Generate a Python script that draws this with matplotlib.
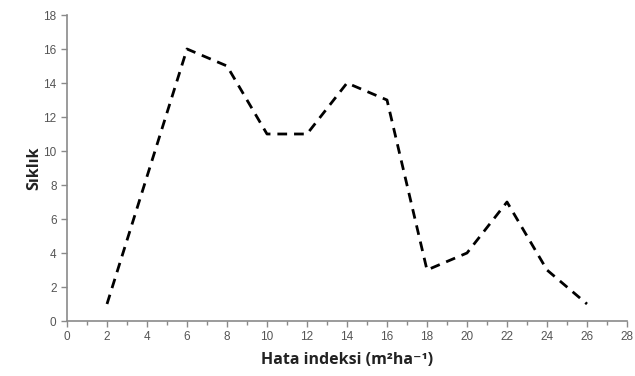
import numpy as np
from matplotlib import pyplot as plt
import matplotlib.ticker

# hata indeksi (m2/ha) vs frequency
x = [2, 4, 6, 8, 10, 12, 14, 16, 18, 20, 22, 24, 26]
freq = [1, 8.5, 16, 15, 11, 11, 14, 13, 3, 4, 7, 3, 1]

xlabel = 'Hata indeksi (m\u00b2ha\u207b\u00b9)'
ylabel = 'S\u0131kl\u0131k'

plt.rcParams['font.family'] = ['Liberation Sans', 'DejaVu Sans']

fig = plt.figure(figsize=(6.35, 3.76), dpi=100)
ax = fig.add_axes([67/635, 1 - 321/376, 560/635, 306/376])

ax.plot(x, freq, color='black', linewidth=2.0, linestyle=(0, (3.5, 2.5)))

ax.set_xlim(0, 28)
ax.set_ylim(0, 18)
ax.xaxis.set_major_locator(matplotlib.ticker.MultipleLocator(2))
ax.xaxis.set_minor_locator(matplotlib.ticker.MultipleLocator(1))
ax.yaxis.set_major_locator(matplotlib.ticker.MultipleLocator(2))

for s in ['top', 'right']:
    ax.spines[s].set_visible(False)
for s in ['left', 'bottom']:
    ax.spines[s].set_color('#8a8a8a')
    ax.spines[s].set_linewidth(1.2)

ax.tick_params(axis='both', which='both', direction='out', color='#8a8a8a',
               labelcolor='#555555', labelsize=8.5)
ax.tick_params(axis='both', which='major', length=4, width=1)
ax.tick_params(axis='x', which='minor', length=3, width=1)

ax.set_xlabel(xlabel, fontsize=11.5, fontweight='bold', color='#222222',
              family=['Open Sans', 'DejaVu Sans'], labelpad=6)
ax.set_ylabel(ylabel, fontsize=11.5, fontweight='bold', color='#222222',
              family=['Open Sans', 'DejaVu Sans'], labelpad=1)

fig.savefig('out.png', dpi=100)
